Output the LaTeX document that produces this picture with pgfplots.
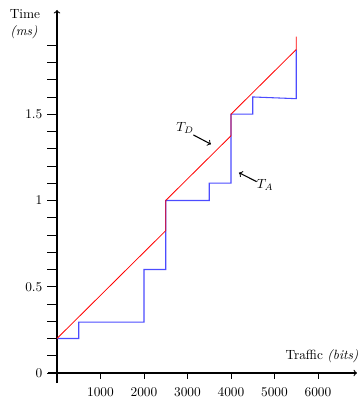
\documentclass[border=0pt]{standalone}
\usepackage{pgfplots}
\pgfplotsset{compat=1.18}
\begin{document}
\begin{tikzpicture}
\begin{axis}[
  scale only axis,
  width=231.75pt, height=279.75pt,
  xmin=-207, xmax=6897,
  ymin=-0.058, ymax=2.104,
  axis lines=middle,
  axis line style={->, line width=0.8pt},
  clip=false,
  tick align=outside,
  xtick={1000,2000,3000,4000,5000,6000},
  ytick={0,0.5,1,1.5},
  yticklabels={0,0.5,1,1.5},
  minor ytick={0.1,0.2,0.3,0.4,0.6,0.7,0.8,0.9,1.1,1.2,1.3,1.4,1.6,1.7,1.8,1.9},
  hide obscured y ticks=false,
  major tick length=7.5pt,
  minor tick length=7.5pt,
  xtick style={/pgfplots/major tick length=4.5pt},
  tick style={black, line width=0.6pt},
  scaled x ticks=false,
  xticklabel style={/pgf/number format/1000 sep={}},
  yticklabel style={/pgf/number format/.cd, fixed},
]
\addplot[blue!70, line width=0.8pt] coordinates {
  (0,0.2) (500,0.2) (500,0.295) (2000,0.295) (2000,0.6) (2500,0.6)
  (2500,1.0) (3500,1.0) (3500,1.1) (4000,1.1) (4000,1.5) (4500,1.5)
  (4500,1.6) (5500,1.59) (5500,1.875)
};
\addplot[red, line width=0.6pt] coordinates {
  (0,0.2) (2500,0.825) (2500,1.0) (4000,1.375) (4000,1.5) (5500,1.875) (5500,1.95)
};
\node at (axis cs:2943,1.42) {$T_D$};
\draw[->, line width=0.8pt] (axis cs:3134,1.380) -- (axis cs:3540,1.326);
\node at (axis cs:4782,1.09) {$T_A$};
\draw[->, line width=0.8pt] (axis cs:4590,1.109) -- (axis cs:4184,1.161);
\node at (axis cs:-736,2.081) {Time};
\node at (axis cs:-759,1.977) {\textit{(ms)}};
\node at (axis cs:6092,0.099) {Traffic \textit{(bits)}};
\end{axis}
\pgfresetboundingbox
\path (-36pt,-12.75pt) rectangle (237pt,287.25pt);
\end{tikzpicture}
\end{document}
